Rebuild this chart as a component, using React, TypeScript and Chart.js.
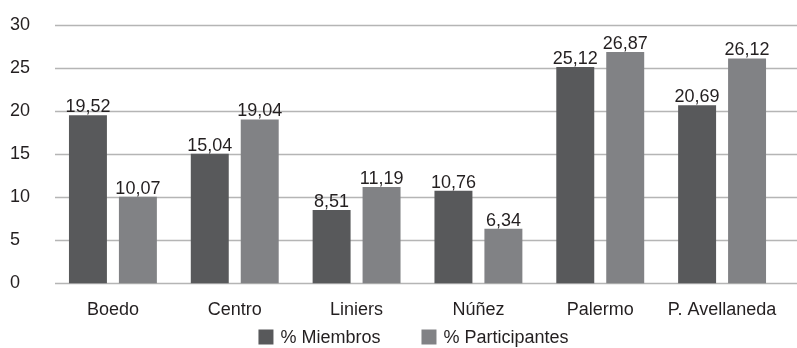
import React, { useEffect, useRef } from "react";
import { Chart, registerables } from "chart.js";

Chart.register(...registerables);

const barrios = ["Boedo", "Centro", "Liniers", "Núñez", "Palermo", "P. Avellaneda"];
const miembros = [19.52, 15.04, 8.51, 10.76, 25.12, 20.69];
const participantes = [10.07, 19.04, 11.19, 6.34, 26.87, 26.12];
const yTicks = [0, 5, 10, 15, 20, 25, 30];

const FONT = "'Liberation Sans', Arial, sans-serif";
const SIZE = 18;
const TEXT = "#231f20";
const DARK = "#58595b";
const LIGHT = "#818285";
const GRID = "#b5b5b5";

const fmt = (v: number) => v.toFixed(2).replace(".", ",");

// horizontal gridlines that run out to the right edge of the canvas
const gridPlugin = {
  id: "wideGrid",
  beforeDatasetsDraw(chart: any) {
    const { ctx, chartArea, scales, width } = chart;
    const y = scales.y;
    ctx.save();
    ctx.strokeStyle = GRID;
    ctx.lineWidth = 1.5;
    for (const t of yTicks) {
      const py = Math.round(y.getPixelForValue(t)) + 0.5;
      ctx.beginPath();
      ctx.moveTo(chartArea.left + 3, py);
      ctx.lineTo(width, py);
      ctx.stroke();
    }
    ctx.restore();
  },
};

// value labels above each bar
const valuePlugin = {
  id: "valueLabels",
  afterDatasetsDraw(chart: any) {
    const { ctx } = chart;
    ctx.save();
    ctx.fillStyle = TEXT;
    ctx.font = `${SIZE}px ${FONT}`;
    ctx.textAlign = "center";
    ctx.textBaseline = "bottom";
    chart.data.datasets.forEach((ds: any, i: number) => {
      const meta = chart.getDatasetMeta(i);
      meta.data.forEach((el: any, j: number) => {
        ctx.fillText(fmt(ds.data[j]), el.x, el.y + 1);
      });
    });
    ctx.restore();
  },
};

// series key under the category labels
const keyPlugin = {
  id: "seriesKey",
  afterDraw(chart: any) {
    const { ctx, chartArea, height } = chart;
    const box = 15;
    const textGap = 7;
    const itemGap = 41;
    ctx.save();
    ctx.font = `${SIZE}px ${FONT}`;
    ctx.textBaseline = "middle";
    ctx.textAlign = "left";
    const items = chart.data.datasets.map((ds: any) => ({
      label: ds.label as string,
      color: ds.backgroundColor as string,
      w: ctx.measureText(ds.label).width,
    }));
    const total =
      items.reduce((s: number, it: any) => s + box + textGap + it.w, 0) + itemGap * (items.length - 1);
    let x = (chartArea.left + chartArea.right) / 2 - 4 - total / 2;
    const cy = height - 11;
    for (const it of items) {
      ctx.fillStyle = it.color;
      ctx.fillRect(x, cy - box / 2, box, box);
      x += box + textGap;
      ctx.fillStyle = TEXT;
      ctx.fillText(it.label, x, cy + 1);
      x += it.w + itemGap;
    }
    ctx.restore();
  },
};

export default function App() {
  const ref = useRef<HTMLCanvasElement>(null);

  useEffect(() => {
    if (!ref.current) return;
    const chart = new Chart(ref.current, {
      type: "bar",
      data: {
        labels: barrios,
        datasets: [
          {
            label: "% Miembros",
            data: miembros,
            backgroundColor: DARK,
            categoryPercentage: 0.82,
            barPercentage: 0.76,
          },
          {
            label: "% Participantes",
            data: participantes,
            backgroundColor: LIGHT,
            categoryPercentage: 0.82,
            barPercentage: 0.76,
          },
        ],
      },
      options: {
        responsive: false,
        animation: false,
        layout: { padding: { left: 10, right: 14, top: 25, bottom: 19 } },
        scales: {
          x: {
            grid: { display: false },
            border: { display: false },
            ticks: {
              color: TEXT,
              font: { family: FONT, size: SIZE },
              padding: 8,
              maxRotation: 0,
              minRotation: 0,
              autoSkip: false,
            },
          },
          y: {
            min: 0,
            max: 30,
            afterBuildTicks: (s: any) => {
              s.ticks = yTicks.map((v) => ({ value: v }));
            },
            afterFit: (s: any) => {
              s.width = 42;
            },
            grid: { display: false },
            border: { display: false },
            ticks: {
              color: TEXT,
              font: { family: FONT, size: SIZE },
              crossAlign: "far",
              padding: 0,
            },
          },
        },
        plugins: {
          legend: { display: false },
          tooltip: { enabled: false },
        },
      },
      plugins: [gridPlugin, valuePlugin, keyPlugin],
    });
    return () => chart.destroy();
  }, []);

  return (
    <div style={{ position: "absolute", left: 0, top: 0, width: 797, height: 348, background: "#fff" }}>
      <canvas ref={ref} width={797} height={348} />
    </div>
  );
}
